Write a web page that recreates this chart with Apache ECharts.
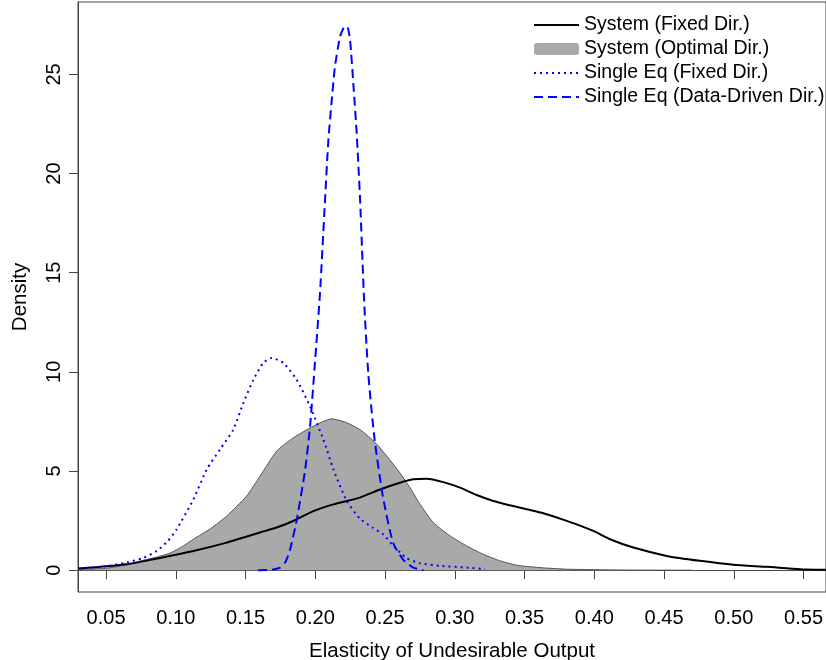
<!DOCTYPE html>
<html>
<head>
<meta charset="utf-8">
<script src="https://cdn.jsdelivr.net/npm/echarts@6/dist/echarts.min.js"></script>
<style>
  html, body { margin: 0; padding: 0; background: #fff; }
  #chart { width: 826px; height: 660px; }
</style>
</head>
<body>
<div id="chart"></div>
<script>
// density curves (x = elasticity, y = density)
var sysFixedX = [0.030, 0.0648, 0.0839, 0.1126, 0.1365, 0.1604, 0.1723, 0.1842, 0.1986, 0.2130, 0.2320, 0.2464, 0.2607, 0.2703, 0.2799, 0.2918, 0.3038, 0.3157, 0.3276, 0.3396, 0.3515, 0.3635, 0.3754, 0.3874, 0.3993, 0.4113, 0.4280, 0.4520, 0.4758, 0.4996, 0.5236, 0.5475, 0.5660];
var sysFixedY = [0.08, 0.30, 0.55, 0.97, 1.39, 1.90, 2.15, 2.48, 2.98, 3.32, 3.66, 4.07, 4.41, 4.58, 4.61, 4.44, 4.16, 3.79, 3.49, 3.27, 3.07, 2.87, 2.60, 2.31, 1.98, 1.56, 1.14, 0.72, 0.47, 0.27, 0.17, 0.05, 0.02];

var sysOptX = [0.030, 0.050, 0.0648, 0.0767, 0.0863, 0.0958, 0.1050, 0.1126, 0.1250, 0.1365, 0.1508, 0.1604, 0.1723, 0.1842, 0.1986, 0.2118, 0.2220, 0.2320, 0.2438, 0.2530, 0.2607, 0.2679, 0.2751, 0.2846, 0.2966, 0.3086, 0.3205, 0.3325, 0.3444, 0.3611, 0.3802, 0.4200, 0.4700];
var sysOptY = [0.03, 0.10, 0.27, 0.50, 0.66, 0.86, 1.20, 1.56, 2.10, 2.73, 3.74, 4.74, 6.00, 6.67, 7.26, 7.63, 7.45, 7.09, 6.37, 5.60, 4.90, 4.16, 3.32, 2.40, 1.73, 1.22, 0.80, 0.47, 0.25, 0.13, 0.05, 0.01, 0.00];

var singleFixedX = [0.031, 0.050, 0.0648, 0.0760, 0.0863, 0.0940, 0.1006, 0.1126, 0.1222, 0.1317, 0.1412, 0.1484, 0.1556, 0.1627, 0.1687, 0.1771, 0.1867, 0.1962, 0.2058, 0.2130, 0.2225, 0.2320, 0.2410, 0.2488, 0.2550, 0.2607, 0.2655, 0.2750, 0.2894, 0.3086, 0.3217];
var singleFixedY = [0.08, 0.20, 0.39, 0.60, 0.97, 1.45, 2.06, 3.57, 5.08, 6.09, 7.09, 8.43, 9.60, 10.45, 10.70, 10.45, 9.60, 8.26, 6.59, 5.08, 3.50, 2.60, 2.15, 1.80, 1.30, 0.90, 0.60, 0.35, 0.22, 0.13, 0.05];

var singleDataX = [0.159, 0.168, 0.1747, 0.1785, 0.1818, 0.1866, 0.1926, 0.1962, 0.1998, 0.2034, 0.2070, 0.2094, 0.2118, 0.2141, 0.2177, 0.2200, 0.2218, 0.2235, 0.2250, 0.2273, 0.2297, 0.2321, 0.2350, 0.2380, 0.2425, 0.2485, 0.2557, 0.2628, 0.2703, 0.2775];
var singleDataY = [0.00, 0.01, 0.13, 0.40, 1.00, 2.50, 5.00, 7.20, 10.50, 14.00, 18.70, 21.70, 23.70, 25.40, 26.90, 27.30, 27.45, 27.30, 26.70, 24.50, 22.00, 18.70, 13.60, 9.90, 6.60, 3.70, 1.40, 0.55, 0.13, 0.00];

var xTicks = [0.05, 0.10, 0.15, 0.20, 0.25, 0.30, 0.35, 0.40, 0.45, 0.50, 0.55];
var yTicks = [0, 5, 10, 15, 20, 25];

var names = ['System (Fixed Dir.)', 'System (Optimal Dir.)', 'Single Eq (Fixed Dir.)', 'Single Eq (Data-Driven Dir.)'];

function pairs(xs, ys) {
    return xs.map(function (x, i) { return [x, ys[i]]; });
}

var font = 'Liberation Sans, Arial, sans-serif';
var myChart = echarts.init(document.getElementById('chart'));

myChart.setOption({
    animation: false,
    backgroundColor: '#fff',
    textStyle: { fontFamily: font },
    grid: { left: 78, right: 0, top: 2, bottom: 68, show: true, borderColor: '#444', borderWidth: 1,
        outerBoundsMode: 'none' },
    legend: {
        left: 528, top: 10, orient: 'vertical',
        itemWidth: 45, itemHeight: 12, itemGap: 4,
        textStyle: { fontSize: 19.5, color: '#000', fontFamily: font },
        data: [
            { name: names[0], itemStyle: { opacity: 0 } },
            { name: names[1], icon: 'roundRect', itemStyle: { color: '#a9a9a9', borderWidth: 0 } },
            { name: names[2], itemStyle: { opacity: 0 } },
            { name: names[3], itemStyle: { opacity: 0 } }
        ]
    },
    xAxis: {
        type: 'value', min: 0.0299, max: 0.5661,
        name: 'Elasticity of Undesirable Output', nameLocation: 'middle', nameGap: 49,
        nameTextStyle: { fontSize: 20.5, color: '#000', fontFamily: font },
        axisLine: { show: true, lineStyle: { color: '#444' } },
        axisTick: { show: true, length: 9, lineStyle: { color: '#444' }, customValues: xTicks },
        axisLabel: { fontSize: 20, color: '#000', margin: 16, customValues: xTicks,
            formatter: function (v) { return v.toFixed(2); } },
        splitLine: { show: false }
    },
    yAxis: {
        type: 'value', min: -1.1, max: 28.65,
        name: 'Density', nameLocation: 'middle', nameGap: 47, nameRotate: 90,
        nameTextStyle: { fontSize: 20.5, color: '#000', fontFamily: font },
        axisLine: { show: true, lineStyle: { color: '#444' } },
        axisTick: { show: true, length: 9, lineStyle: { color: '#444' }, customValues: yTicks },
        axisLabel: { fontSize: 20, color: '#000', margin: 14, rotate: 90, customValues: yTicks },
        splitLine: { show: false }
    },
    series: [
        {
            name: names[1], type: 'line', data: pairs(sysOptX, sysOptY),
            smooth: 0.2, symbol: 'none',
            lineStyle: { color: '#555', width: 1 },
            itemStyle: { color: '#a9a9a9' },
            areaStyle: { color: '#a9a9a9', opacity: 1, origin: 'auto' }
        },
        {
            name: names[0], type: 'line', data: pairs(sysFixedX, sysFixedY),
            smooth: 0.2, symbol: 'none',
            lineStyle: { color: '#000', width: 2 },
            itemStyle: { color: '#000' }
        },
        {
            name: names[2], type: 'line', data: pairs(singleFixedX, singleFixedY),
            smooth: 0.2, symbol: 'none',
            lineStyle: { color: '#0000ff', width: 2, type: [2, 4] },
            itemStyle: { color: '#0000ff' }
        },
        {
            name: names[3], type: 'line', data: pairs(singleDataX, singleDataY),
            smooth: 0.2, symbol: 'none',
            lineStyle: { color: '#0000ff', width: 2, type: [9, 5] },
            itemStyle: { color: '#0000ff' }
        }
    ]
});
</script>
</body>
</html>
